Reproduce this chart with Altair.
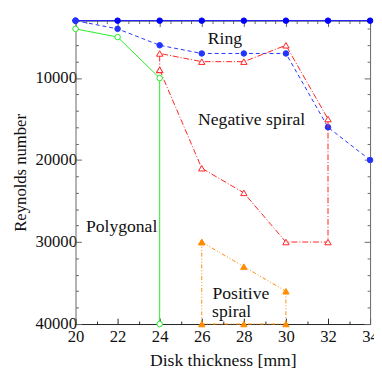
import altair as alt
import pandas as pd

# ---- data ----
ring_x = [20, 22, 24, 26, 28, 30, 32, 34]
ring_y = [3000, 3000, 3000, 3000, 3000, 3000, 3000, 3000]

ringb_x = [20, 22, 24, 26, 28, 30, 32, 34]
ringb_y = [3000, 4000, 6000, 7000, 7000, 7000, 16000, 20000]

neg_x = [24, 26, 28, 30, 32, 32, 30, 28, 26, 24, 24]
neg_y = [9000, 21000, 24000, 30000, 30000, 15000, 6000, 8000, 8000, 7000, 9000]

poly_x = [20, 22, 24, 24]
poly_y = [4000, 5000, 10000, 40000]

pos_x = [26, 28, 30, 30, 28, 26, 26]
pos_y = [30000, 33000, 36000, 40000, 40000, 40000, 30000]

label_text = ["Ring", "Negative spiral", "Polygonal", "Positive", "spiral"]
label_x = [27.1, 28.37, 22.19, 27.86, 27.42]
label_y = [5300, 15100, 28150, 36300, 38600]

x_ticks = [20 + 0.5 * i for i in range(29)]
y_ticks = [4000 + 2000 * i for i in range(19)]

FONT = "Liberation Serif, Times New Roman, DejaVu Serif, serif"
xs = alt.Scale(domain=[20, 34], nice=False, zero=False)
ys = alt.Scale(domain=[3000, 40000], nice=False, zero=False, reverse=True)


def df(xv, yv):
    return pd.DataFrame({"x": xv, "y": yv, "i": list(range(len(xv)))})


x_axis = alt.Axis(
    orient="bottom", values=x_ticks, title="Disk thickness [mm]", format="d",
    labelExpr="datum.value % 2 === 0 ? datum.label : ''",
    tickSize={"expr": "datum.value % 2 === 0 ? -6 : -3"},
    labelPadding=11, labelFlush=False, labelOverlap=False,
    grid=False, domainColor="#222", tickColor="#222",
    labelFont=FONT, labelFontSize=17, labelColor="#111",
    titleFont=FONT, titleFontSize=18, titleFontWeight="normal", titleColor="#111",
    titlePadding=4,
)
y_axis = alt.Axis(
    orient="left", values=y_ticks, title="Reynolds number", format="d",
    labelExpr="datum.value % 10000 === 0 ? datum.label : ''",
    tickSize={"expr": "datum.value % 10000 === 0 ? -6 : -3"},
    labelPadding=5, labelFlush=False, labelOverlap=False,
    grid=False, domainColor="#666", tickColor="#666",
    labelFont=FONT, labelFontSize=17, labelColor="#111",
    titleFont=FONT, titleFontSize=17, titleFontWeight="normal", titleColor="#111",
    titlePadding=6,
)

XE = alt.X("x:Q", scale=xs, axis=None)
YE = alt.Y("y:Q", scale=ys, axis=None)


def series(xv, yv, color, dash, shape, filled):
    d = df(xv, yv)
    line_kw = dict(color=color, strokeWidth=1, clip=False)
    if dash:
        line_kw["strokeDash"] = dash
    line = alt.Chart(d).mark_line(**line_kw).encode(x=XE, y=YE, order="i:Q")
    pt = alt.Chart(d).mark_point(
        shape=shape, filled=True, fill=color if filled else "white",
        stroke=color, strokeWidth=1, size=32 if shape == "circle" else 42,
        opacity=1, clip=False,
    ).encode(x=XE, y=YE)
    return [line, pt]


layers = []
layers += series(ring_x, ring_y, "#0000ff", None, "circle", True)
layers += series(ringb_x, ringb_y, "#2233ff", [4, 3], "circle", True)
layers += series(neg_x, neg_y, "#ff2020", [6, 2, 1, 2], "triangle-up", False)
layers += series(poly_x, poly_y, "#22ee22", None, "circle", False)
layers += series(pos_x, pos_y, "#ff8c00", [4, 2, 1, 2, 1, 2], "triangle-up", True)

labels = alt.Chart(
    pd.DataFrame({"t": label_text, "x": label_x, "y": label_y})
).mark_text(font=FONT, fontSize=18, color="#111", align="center", baseline="middle").encode(
    x=XE, y=YE, text="t:N"
)

base_axes = alt.Chart(df([20, 34], [3000, 40000])).mark_point(opacity=0).encode(
    x=alt.X("x:Q", scale=xs, axis=x_axis),
    y=alt.Y("y:Q", scale=ys, axis=y_axis),
)

mirror = alt.Chart(df([20, 34], [3000, 40000])).mark_point(opacity=0).encode(
    x=alt.X("x:Q", scale=xs, axis=alt.Axis(
        orient="top", values=x_ticks, labels=False, title=None, grid=False,
        tickSize={"expr": "datum.value % 2 === 0 ? -6 : -3"},
        domainColor="#666", tickColor="#666")),
    y=alt.Y("y:Q", scale=ys, axis=alt.Axis(
        orient="right", values=y_ticks, labels=False, title=None, grid=False,
        tickSize={"expr": "datum.value % 10000 === 0 ? -6 : -3"},
        domainColor="#666", tickColor="#666")),
)

chart = alt.layer(base_axes, mirror, *layers, labels).resolve_axis(
    x="independent", y="independent"
).properties(
    width=301, height=310,
    autosize=alt.AutoSizeParams(type="none"),
    padding={"left": 69, "top": 9, "right": 4, "bottom": 42},
).configure_view(stroke=None)

chart.save("out.html", embed_options={"renderer": "svg", "actions": False})
